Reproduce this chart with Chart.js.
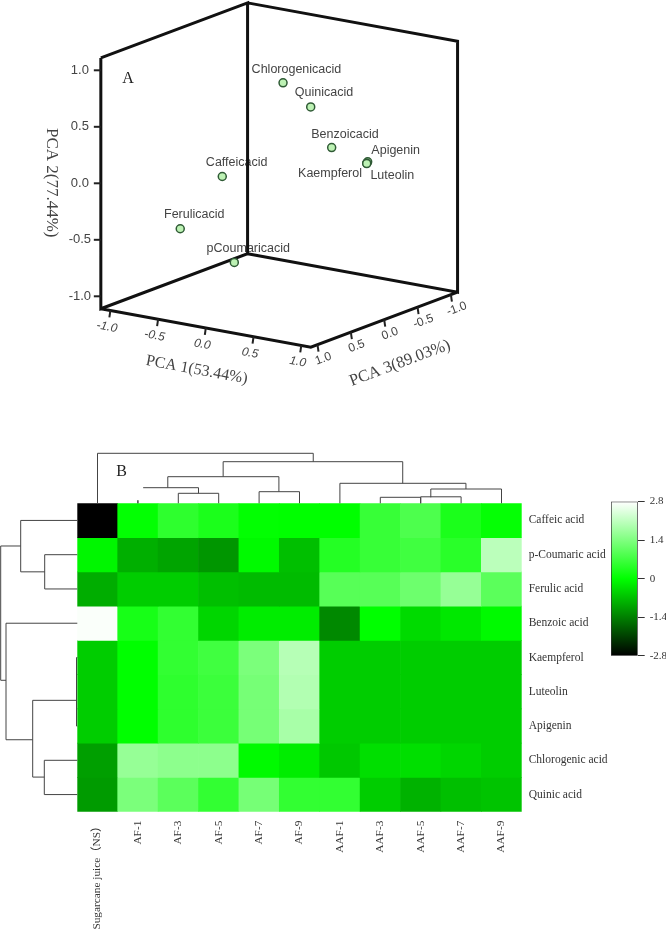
<!DOCTYPE html>
<html>
<head>
<meta charset="utf-8">
<title>PCA and heatmap</title>
<script src="https://cdn.jsdelivr.net/npm/chart.js@4"></script>
<style>
  html, body { margin: 0; padding: 0; background: #fff; overflow: hidden; }
  #page { position: relative; width: 666px; height: 930px; }
  canvas { position: absolute; filter: blur(0.35px); }
  #pca { left: 0; top: 0; }
  #heat { left: 0; top: 440px; }
  #bar { left: 600px; top: 490px; }
</style>
</head>
<body>
<div id="page">
  <canvas id="pca" width="666" height="420"></canvas>
  <canvas id="heat" width="610" height="490"></canvas>
  <canvas id="bar" width="66" height="180"></canvas>
</div>
<script>
// panel A - loadings
const compounds = ['Chlorogenicacid', 'Quinicacid', 'Benzoicacid', 'Apigenin', 'Kaempferol', 'Luteolin', 'Caffeicacid', 'Ferulicacid', 'pCoumaricacid'];
const pca1 = [0.18, 0.40, 0.41, 0.857, 0.847, 0.847, -0.806, -0.897, -0.68];
const pca2 = [0.888, 0.686, 0.262, 0.227, 0.213, 0.21, -0.204, -0.57, -0.945];
const pca3 = [0.2, 0.1, -0.2, -0.1, -0.1, -0.1, -0.3, 0.2, -0.3];
const pcaTicks = [-1, -0.5, 0, 0.5, 1];

// panel B - heatmap values
const samples = ['Sugarcane juice（NS）', 'AF-1', 'AF-3', 'AF-5', 'AF-7', 'AF-9', 'AAF-1', 'AAF-3', 'AAF-5', 'AAF-7', 'AAF-9'];
const acids = ['Caffeic acid', 'p-Coumaric acid', 'Ferulic acid', 'Benzoic acid', 'Kaempferol', 'Luteolin', 'Apigenin', 'Chlorogenic acid', 'Quinic acid'];
const caffeic = [-2.8, 0.03, 0.5, 0.3, 0.02, 0, 0, 0.6, 0.85, 0.3, 0.05];
const coumaric = [-0.1, -0.88, -1.0, -1.15, -0.05, -0.7, 0.4, 0.6, 0.7, 0.45, 2.05];
const ferulic = [-0.9, -0.55, -0.55, -0.7, -0.75, -0.75, 0.95, 0.95, 1.2, 1.65, 1.0];
const benzoic = [2.75, 0.25, 0.55, -0.45, -0.2, -0.2, -1.3, 0, -0.4, -0.25, -0.05];
const kaempferol = [-0.55, 0, 0.55, 0.7, 1.35, 2.0, -0.55, -0.55, -0.55, -0.55, -0.55];
const luteolin = [-0.55, 0, 0.5, 0.65, 1.3, 1.95, -0.55, -0.55, -0.55, -0.55, -0.55];
const apigenin = [-0.55, 0, 0.5, 0.65, 1.3, 1.85, -0.55, -0.55, -0.55, -0.55, -0.55];
const chlorogenic = [-1.05, 1.65, 1.55, 1.55, -0.05, -0.2, -0.6, -0.35, -0.35, -0.45, -0.55];
const quinic = [-1.1, 1.35, 1.0, 0.55, 1.3, 0.55, 0.55, -0.55, -0.85, -0.7, -0.65];
const heatRows = [caffeic, coumaric, ferulic, benzoic, kaempferol, luteolin, apigenin, chlorogenic, quinic];
const colorTicks = [-2.8, -1.4, 0, 1.4, 2.8];

// dendrograms: [posA, posB, height, heightA, heightB]
const topLinks = [
  [0, 5.34, 50, 0, 41.6], [3.11, 7.555, 41.6, 26.6, 20], [1.74, 4.49, 26.6, 15.6, 11.6],
  [4, 5, 11.6, 0, 0], [2, 3, 10, 0, 0], [1.13, 2.5, 15.6, 15.6, 10], [1, 1, 3, 0, 0],
  [6, 9.12, 20, 0, 14.3], [8.25, 10, 14.3, 6, 0], [7, 8, 6, 0, 0], [8, 9, 6.5, 0, 0]
];
const leftLinks = [
  [1.246, 5.165, 76.6, 56.6, 71.3], [0.5, 2, 56.6, 0, 32.6], [1.5, 2.5, 32.6, 0, 0],
  [3.5, 6.9, 71.3, 0, 44.6], [5.75, 7.99, 44.6, 0.8, 33], [7.5, 8.5, 33, 0, 0],
  [4.5, 6.5, 0.8, 0, 0]
];

const inkColor = '#444';

// fixed oblique view of the PCA cube
function project(p1, p2, p3) {
  return { x: 279.2 + 95.45 * p1 - 66.7 * p3, y: 175 + 17.45 * p1 + 25 * p3 - 113 * p2 };
}

const lim = 1.1;
const limY = 1.11;
const boxEdges = [
  [-lim, limY, lim], [-lim, -limY, lim], [-lim, -limY, -lim], [-lim, limY, -lim], [-lim, limY, lim], null,
  [-lim, limY, -lim], [lim, limY, -lim], [lim, -limY, -lim], [-lim, -limY, -lim], null,
  [-lim, -limY, lim], [lim, -limY, lim], [lim, -limY, -lim]
];

// label offsets from each point, same order as compounds
const labelShift = [[13.4, -13.3], [13.3, -14.4], [13.3, -13.4], [28, -11.3], [-36.7, 10.6], [25.6, 12], [14.4, -14.3], [14, -14.3], [14, -14.3]];

function rotatedText(ctx, text, x, y, deg, font, color) {
  ctx.save();
  ctx.translate(x, y);
  ctx.rotate(deg * Math.PI / 180);
  ctx.font = font;
  ctx.fillStyle = color || inkColor;
  ctx.textAlign = 'center';
  ctx.textBaseline = 'middle';
  ctx.fillText(text, 0, 0);
  ctx.restore();
}

const pcaLabels = {
  id: 'pcaLabels',
  beforeDatasetsDraw(chart) {
    const { ctx, scales: { x, y } } = chart;
    compounds.forEach((name, i) => {
      const p = project(pca1[i], pca2[i], pca3[i]);
      rotatedText(ctx, name, x.getPixelForValue(p.x) + labelShift[i][0], y.getPixelForValue(p.y) + labelShift[i][1], 0, '12.5px "Liberation Sans"');
    });
  },
  afterDatasetsDraw(chart) {
    const { ctx, scales: { x, y } } = chart;
    const px = p => ({ x: x.getPixelForValue(p.x), y: y.getPixelForValue(p.y) });
    ctx.save();
    ctx.strokeStyle = '#222';
    ctx.lineWidth = 2;
    pcaTicks.forEach(t => {
      const v = t.toFixed(1);
      // PCA 2 on the left edge
      let a = px(project(-lim, t, lim));
      ctx.beginPath(); ctx.moveTo(a.x, a.y); ctx.lineTo(a.x - 7, a.y); ctx.stroke();
      rotatedText(ctx, v, a.x - 21, a.y, 0, '13px "Liberation Sans"');
      // PCA 1 on the front floor edge
      a = px(project(t, -limY, lim));
      ctx.beginPath(); ctx.moveTo(a.x, a.y); ctx.lineTo(a.x - 1, a.y + 7); ctx.stroke();
      rotatedText(ctx, v, a.x - 3.5, a.y + 16.5, 10.4, 'italic 12px "Liberation Sans"');
      // PCA 3 on the right floor edge
      a = px(project(lim, -limY, t));
      ctx.beginPath(); ctx.moveTo(a.x, a.y); ctx.lineTo(a.x + 1, a.y + 7); ctx.stroke();
      rotatedText(ctx, v, a.x + 5.8, a.y + 14.2, -20.5, '12px "Liberation Sans"');
    });
    ctx.restore();
    rotatedText(ctx, 'PCA 1(53.44%)', 196.7, 370, 10.4, '16px "Liberation Serif"');
    rotatedText(ctx, 'PCA 3(89.03%)', 400, 363.3, -20.5, '16.5px "Liberation Serif"');
    rotatedText(ctx, 'PCA 2(77.44%)', 51, 182.7, 90, '17px "Liberation Serif"');
    rotatedText(ctx, 'A', 128, 79, 0, '16px "Liberation Serif"', '#222');
  }
};

new Chart(document.getElementById('pca'), {
  type: 'scatter',
  data: {
    datasets: [{
      label: 'Compounds',
      data: compounds.map((c, i) => project(pca1[i], pca2[i], pca3[i])),
      backgroundColor: '#bdf2b4',
      borderColor: '#2f5a35',
      borderWidth: 1.5,
      pointRadius: 4
    }, {
      label: 'Box',
      data: boxEdges.map(c => c ? project(c[0], c[1], c[2]) : { x: null, y: null }),
      showLine: true,
      spanGaps: false,
      borderColor: '#111',
      borderWidth: 3,
      pointRadius: 0,
      tension: 0
    }]
  },
  options: {
    responsive: false,
    animation: false,
    layout: { padding: 0, autoPadding: false },
    plugins: { legend: { display: false }, tooltip: { enabled: false } },
    scales: {
      x: { type: 'linear', min: 0, max: 666, display: false },
      y: { type: 'linear', min: 0, max: 420, reverse: true, display: false }
    }
  },
  plugins: [pcaLabels]
});

// black - green - white
function greenScale(v) {
  const t = Math.max(-1, Math.min(1, v / 2.8));
  if (t < 0) return `rgb(0,${Math.round(255 * (1 + t))},0)`;
  const c = Math.round(255 * t);
  return `rgb(${c},255,${c})`;
}

const dendrograms = {
  id: 'dendrograms',
  afterDatasetsDraw(chart) {
    const { ctx, chartArea, scales: { x, y } } = chart;
    ctx.save();
    ctx.strokeStyle = '#444';
    ctx.lineWidth = 1;
    topLinks.forEach(([a, b, h, ha, hb]) => {
      const xa = x.getPixelForValue(a), xb = x.getPixelForValue(b), t = chartArea.top;
      ctx.beginPath();
      ctx.moveTo(xa, t - ha); ctx.lineTo(xa, t - h); ctx.lineTo(xb, t - h); ctx.lineTo(xb, t - hb);
      ctx.stroke();
    });
    leftLinks.forEach(([a, b, h, ha, hb]) => {
      const ya = y.getPixelForValue(a), yb = y.getPixelForValue(b), l = chartArea.left;
      ctx.beginPath();
      ctx.moveTo(l - ha, ya); ctx.lineTo(l - h, ya); ctx.lineTo(l - h, yb); ctx.lineTo(l - hb, yb);
      ctx.stroke();
    });
    ctx.restore();
    rotatedText(ctx, 'B', 121.7, 32, 0, '16px "Liberation Serif"', '#222');
  }
};

new Chart(document.getElementById('heat'), {
  type: 'bar',
  data: {
    labels: samples,
    datasets: heatRows.map((row, r) => ({
      label: acids[r],
      data: row.map(() => [r, r + 1]),
      backgroundColor: row.map(greenScale),
      grouped: false,
      barPercentage: 1,
      categoryPercentage: 1,
      borderWidth: 0,
      yAxisID: 'y'
    }))
  },
  options: {
    responsive: false,
    animation: false,
    layout: { padding: { left: 77.3, top: 63.3, right: 0, bottom: 0 } },
    plugins: { legend: { display: false }, tooltip: { enabled: false } },
    scales: {
      x: {
        grid: { display: false, drawTicks: false },
        border: { display: false },
        afterFit: s => { s.height = 118.3; },
        ticks: {
          autoSkip: false, minRotation: 90, maxRotation: 90, padding: 9,
          color: '#333', font: { family: '"Liberation Serif", "Noto Sans CJK SC"', size: 11.3 }
        }
      },
      y: { type: 'linear', min: 0, max: 9, reverse: true, display: false },
      yRows: {
        type: 'category',
        position: 'right',
        labels: acids,
        offset: true,
        grid: { display: false, drawTicks: false },
        border: { display: false },
        afterFit: s => { s.width = 88.3; },
        ticks: { autoSkip: false, padding: 7, color: '#333', font: { family: '"Liberation Serif"', size: 11.5 } }
      }
    }
  },
  plugins: [dendrograms]
});

// colour key
new Chart(document.getElementById('bar'), {
  type: 'bar',
  data: {
    labels: ['z'],
    datasets: [{
      data: [[colorTicks[0], colorTicks[colorTicks.length - 1]]],
      barPercentage: 1,
      categoryPercentage: 1,
      borderWidth: 1,
      borderColor: '#333',
      borderSkipped: false,
      backgroundColor(context) {
        const { chart } = context;
        if (!chart.chartArea) return '#0f0';
        const y = chart.scales.y;
        const g = chart.ctx.createLinearGradient(0, y.getPixelForValue(-2.8), 0, y.getPixelForValue(2.8));
        g.addColorStop(0, greenScale(-2.8));
        g.addColorStop(0.5, greenScale(0));
        g.addColorStop(1, greenScale(2.8));
        return g;
      }
    }]
  },
  options: {
    responsive: false,
    animation: false,
    layout: { padding: { left: 11, top: 10.7, right: 0, bottom: 14.3 } },
    plugins: { legend: { display: false }, tooltip: { enabled: false } },
    scales: {
      x: { display: false },
      y: {
        position: 'right',
        min: -2.8,
        max: 2.8,
        afterBuildTicks: s => { s.ticks = colorTicks.map(v => ({ value: v })); },
        afterFit: s => { s.width = 28.3; },
        grid: { drawOnChartArea: false, tickLength: 7, color: '#333' },
        border: { display: false },
        ticks: {
          padding: 5, color: '#333',
          font: { family: '"Liberation Serif"', size: 11 },
          callback: v => String(v)
        }
      }
    }
  }
});
</script>
</body>
</html>
